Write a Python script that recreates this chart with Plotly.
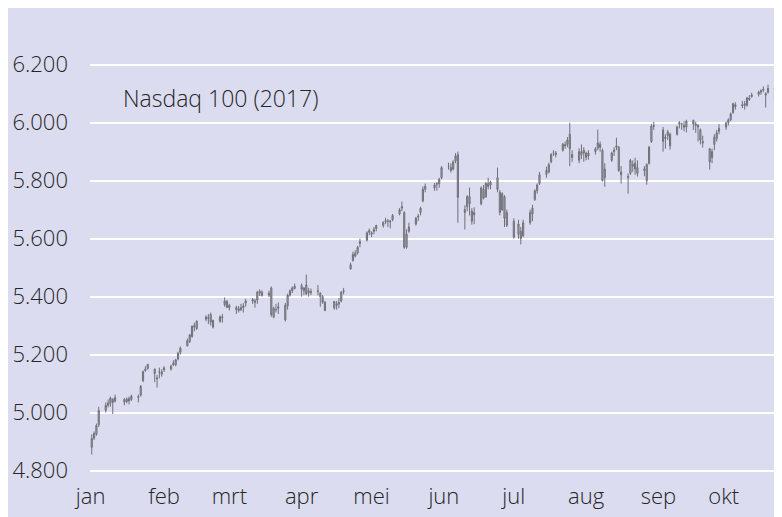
import pandas as pd
import plotly.graph_objects as go

# ---- data (Nasdaq 100, 2017, daily OHLC) ----
holidays = ["2017-01-16", "2017-02-20", "2017-04-14", "2017-05-29", "2017-07-04", "2017-09-04"]
start_date, end_date = "2017-01-03", "2017-10-25"

opens = [
    [4880,4912,4925,4958,5008,5025,5032,5045,5040,5045,5038,5048,5045,5052,5060,5110,5145,5152,5150,5120],
    [5140,5132,5148,5150,5165,5165,5185,5208,5230,5245,5262,5300,5290,5322,5325,5338,5295,5315,5328],
    [5372,5383,5362,5355,5358,5355,5362,5378,5385,5380,5388,5418,5415,5405,5430,5330,5355,5365,5320,5368,5405,5420,5428],
    [5438,5420,5440,5412,5418,5420,5412,5400,5380,5360,5375,5380,5385,5420,5495,5525,5550,5550,5590],
    [5595,5622,5615,5625,5635,5645,5658,5660,5658,5665,5685,5705,5690,5570,5625,5650,5678,5690,5730,5770,5775,5790],
    [5790,5810,5850,5845,5840,5868,5890,5700,5710,5745,5660,5690,5720,5770,5745,5790,5785,5810,5760,5700,5745,5690],
    [5660,5615,5625,5610,5655,5685,5735,5765,5790,5822,5830,5865,5895,5890,5905,5925,5925,5960,5880,5900],
    [5890,5905,5895,5885,5900,5912,5915,5905,5810,5870,5900,5915,5915,5830,5815,5825,5850,5860,5845,5835,5800,5860,5935],
    [5990,5975,5945,5955,5960,5960,5995,5995,5990,5985,6008,5995,5990,5975,5930,5910,5880,5925,5945,5970],
    [5985,6000,6010,6035,6055,6062,6065,6060,6085,6090,6098,6105,6112,6100,6105,6120,6080,6090],
]
highs = [
    [4925,4935,4962,5020,5035,5045,5055,5050,5062,5050,5052,5055,5062,5062,5095,5145,5160,5168,5152,5130],
    [5155,5150,5160,5165,5180,5185,5210,5228,5255,5270,5300,5310,5318,5335,5340,5345,5320,5335,5340],
    [5397,5388,5375,5368,5368,5375,5378,5392,5395,5392,5420,5425,5422,5420,5435,5365,5375,5380,5378,5410,5425,5435,5445],
    [5445,5432,5476,5430,5428,5440,5415,5405,5385,5385,5385,5395,5420,5430,5517,5555,5560,5575,5600],
    [5625,5635,5625,5640,5648,5660,5672,5668,5665,5685,5705,5728,5695,5632,5655,5675,5685,5710,5780,5790,5792,5795],
    [5810,5850,5862,5860,5870,5895,5900,5715,5750,5776,5705,5708,5780,5785,5795,5810,5800,5845,5768,5760,5750,5700],
    [5670,5665,5640,5665,5700,5717,5770,5790,5830,5848,5862,5895,5905,5902,5930,5935,5950,6000,5905,5912],
    [5925,5915,5900,5905,5915,5976,5935,5911,5860,5900,5915,5948,5920,5850,5825,5875,5870,5879,5870,5850,5860,5920,5995],
    [6003,5985,5960,5975,5965,5990,6005,6000,6005,6010,6010,6003,5995,5980,5955,5912,5910,5960,5975,5995],
    [6003,6015,6035,6069,6070,6075,6075,6089,6095,6103,6110,6115,6125,6105,6131,6125,6110,6095],
]
lows = [
    [4855,4905,4920,4950,5000,5018,5020,4995,5035,5025,5032,5028,5040,5035,5055,5105,5140,5148,5105,5086],
    [5118,5124,5140,5145,5160,5160,5180,5200,5228,5240,5258,5280,5285,5315,5305,5300,5290,5310,5310],
    [5365,5360,5352,5340,5345,5350,5345,5365,5375,5362,5375,5402,5400,5398,5330,5325,5345,5340,5314,5355,5400,5412,5425],
    [5400,5405,5405,5400,5405,5405,5365,5375,5350,5355,5355,5360,5380,5408,5493,5520,5535,5545,5570],
    [5590,5612,5605,5615,5625,5638,5650,5640,5635,5660,5680,5695,5565,5565,5620,5645,5660,5680,5725,5760,5765,5765],
    [5775,5805,5838,5828,5835,5860,5655,5631,5695,5680,5648,5650,5715,5735,5740,5770,5770,5760,5680,5695,5640,5640],
    [5600,5600,5580,5605,5648,5660,5730,5755,5785,5810,5825,5860,5885,5880,5900,5910,5915,5850,5865,5860],
    [5875,5865,5870,5872,5890,5905,5900,5797,5779,5865,5885,5905,5830,5790,5755,5820,5830,5820,5814,5815,5786,5855,5930],
    [5975,5900,5910,5940,5907,5955,5980,5975,5970,5966,5975,5965,5935,5925,5914,5838,5860,5905,5935,5960],
    [5975,5990,6005,6030,6045,6050,6045,6055,6075,6086,6090,6096,6105,6052,6100,6060,6070,6010],
]
closes = [
    [4911,4928,4955,5007,5025,5033,5050,5035,5052,5036,5046,5040,5056,5055,5090,5141,5150,5166,5135,5117],
    [5140,5141,5154,5160,5170,5182,5205,5222,5248,5268,5298,5295,5315,5330,5327,5312,5318,5330,5330],
    [5385,5363,5370,5362,5352,5362,5368,5385,5390,5385,5415,5412,5404,5412,5338,5360,5355,5360,5370,5405,5420,5430,5436],
    [5425,5430,5410,5420,5415,5418,5400,5380,5352,5383,5370,5375,5415,5418,5510,5545,5540,5570,5583],
    [5620,5628,5620,5632,5645,5655,5662,5660,5660,5680,5700,5710,5570,5615,5640,5670,5675,5705,5770,5780,5785,5788],
    [5805,5845,5850,5835,5865,5885,5742,5690,5745,5720,5695,5682,5775,5740,5790,5780,5795,5770,5690,5755,5670,5646],
    [5605,5650,5600,5655,5690,5705,5765,5785,5820,5835,5855,5890,5895,5895,5925,5920,5940,5910,5890,5870],
    [5900,5895,5880,5895,5910,5930,5925,5800,5840,5895,5905,5920,5835,5820,5810,5870,5855,5840,5825,5840,5855,5915,5988],
    [5988,5935,5950,5968,5920,5985,6000,5995,5985,6005,5995,5990,5985,5940,5935,5865,5900,5950,5965,5980],
    [5998,6010,6030,6065,6062,6058,6060,6085,6080,6095,6105,6110,6115,6095,6118,6070,6100,6040],
]

y_ticks = [4800, 5000, 5200, 5400, 5600, 5800, 6000, 6200]
month_labels = ["jan", "feb", "mrt", "apr", "mei", "jun", "jul", "aug", "sep", "okt"]
month_ticks = ["2017-01-02 12:00", "2017-02-03", "2017-03-03", "2017-04-03", "2017-05-03",
               "2017-06-03", "2017-07-03", "2017-08-03", "2017-09-03", "2017-10-01"]
title_text = "Nasdaq 100 (2017)"

# ---- build ----
dates = pd.bdate_range(start_date, end_date)
dates = dates[~dates.isin(pd.to_datetime(holidays))]
for i, m in enumerate(range(1, 11)):
    n = (dates.month == m).sum()
    for name, arr in (("open", opens), ("high", highs), ("low", lows), ("close", closes)):
        assert len(arr[i]) == n, f"{name} month {m}: {len(arr[i])} vs {n}"

flat = lambda a: [v for month in a for v in month]

BG = "#dcdcf0"
TXT = "#262626"
FONT = "Open Sans"

fig = go.Figure(go.Candlestick(
    x=dates, open=flat(opens), high=flat(highs), low=flat(lows), close=flat(closes),
    increasing=dict(line=dict(color="#707078", width=1), fillcolor="#a8a8b2"),
    decreasing=dict(line=dict(color="#707078", width=1), fillcolor="#a8a8b2"),
    whiskerwidth=0, showlegend=False, hoverinfo="x+y",
))

# page body has an 8px margin, so the figure fills the rest of the 782x517 window
W, H = 774, 509
L, R, T, B = 82, 0, 1, 45
pw, ph = W - L - R, H - T - B

fig.update_layout(
    width=W, height=H,
    margin=dict(l=L, r=R, t=T, b=B, pad=0),
    paper_bgcolor=BG, plot_bgcolor=BG,
    separators=",.",
    font=dict(family=FONT, color=TXT, size=22, weight=300),
    showlegend=False,
    xaxis=dict(
        type="date", range=["2017-01-02 06:00", "2017-10-26 00:00"],
        tickvals=month_ticks, ticktext=month_labels,
        showgrid=False, zeroline=False, showline=False, ticks="",
        tickfont=dict(family=FONT, size=22, color=TXT, weight=300),
        ticklabelstandoff=9,
        rangeslider=dict(visible=False),
    ),
    yaxis=dict(
        range=[4795, 6392], tickvals=y_ticks, tickformat=",.0f",
        showgrid=True, gridcolor="white", gridwidth=2,
        zeroline=False, showline=False, ticks="",
        tickfont=dict(family=FONT, size=22, color=TXT, weight=300),
        ticklabelstandoff=21,
    ),
    annotations=[dict(
        text=title_text, xref="paper", yref="paper",
        x=(113 - L) / pw, y=1 - (90 - T) / ph, xanchor="left", yanchor="middle",
        showarrow=False, font=dict(family=FONT, size=23, color=TXT, weight=300),
    )],
)

fig.write_html("out.html")
